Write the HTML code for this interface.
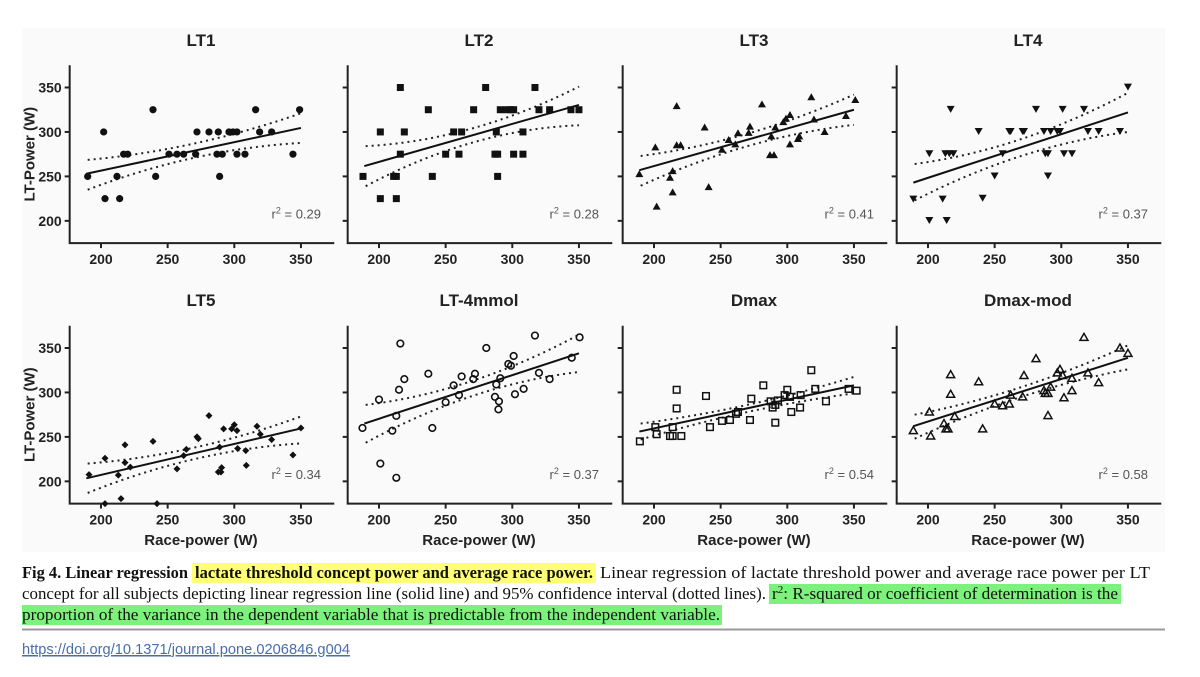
<!DOCTYPE html>
<html><head><meta charset="utf-8">
<style>
html,body{margin:0;padding:0;background:#fff;}
svg{display:block;}
</style></head>
<body>
<svg id="fig" width="1200" height="677" viewBox="0 0 1200 677" xmlns="http://www.w3.org/2000/svg">
<rect x="22" y="28" width="1143" height="524" fill="#fafafa"/>
<g id="panels"></g>
<g font-family="'Liberation Serif', serif" font-size="17" fill="#111">
<rect x="192" y="563" width="404" height="20" fill="#ffff7a"/>
<rect x="769" y="584" width="352" height="20" fill="#7cf27c"/>
<rect x="22" y="605" width="700" height="20" fill="#7cf27c"/>
<text x="22" y="578" textLength="166" lengthAdjust="spacingAndGlyphs" font-weight="bold">Fig 4.  Linear regression</text>
<text x="195" y="578" textLength="398" lengthAdjust="spacingAndGlyphs" font-weight="bold">lactate threshold concept power and average race power.</text>
<text x="600" y="578" textLength="550" lengthAdjust="spacingAndGlyphs">Linear regression of lactate threshold power and average race power per LT</text>
<text x="22" y="599" textLength="744" lengthAdjust="spacingAndGlyphs">concept for all subjects depicting linear regression line (solid line) and 95% confidence interval (dotted lines).</text>
<text x="772" y="599" textLength="346" lengthAdjust="spacingAndGlyphs">r<tspan font-size="11" dy="-6">2</tspan><tspan dy="6">: R-squared or coefficient of determination is the</tspan></text>
<text x="22" y="620" textLength="698" lengthAdjust="spacingAndGlyphs">proportion of the variance in the dependent variable that is predictable from the independent variable.</text>
<line x1="22" y1="629.5" x2="1165" y2="629.5" stroke="#9a9a9a" stroke-width="2"/>
</g>
<text x="22" y="654" font-family="'Liberation Sans', sans-serif" font-size="15" fill="#4a6da8" textLength="328" lengthAdjust="spacingAndGlyphs" text-decoration="underline">https://doi.org/10.1371/journal.pone.0206846.g004</text>
</svg>
<script>
const titles = ["LT1","LT2","LT3","LT4","LT5","LT-4mmol","Dmax","Dmax-mod"];
const r2Labels = ["0.29","0.28","0.41","0.37","0.34","0.37","0.54","0.58"];
const markers = ["circle","square","triUp","triDown","diamond","openCircle","openSquare","openTri"];
const xTicks = [200,250,300,350];
const yTicks = [200,250,300,350];
const lineX = [189,350];
const ciX = [190,270,350];

const lt1X = [190,202,203,212,214,217,220,239,241,251,257,262,271,272,281,287,288,289,291,296,299,302,302,308,316,319,328,344,349];
const lt1Y = [250,300,225,250,225,275,275,325,250,275,275,275,275,300,300,275,300,250,275,300,300,300,275,275,325,300,300,275,325];
const lt2X = [188,201,201,213,211,213,216,216,219,237,240,250,256,260,262,271,280,288,287,289,289,291,296,299,301,301,308,308,317,320,328,344,350];
const lt2Y = [250,300,225,225,250,250,350,275,300,325,250,275,300,275,300,325,350,300,275,275,250,325,325,325,325,275,300,275,350,325,325,325,325];
const lt3X = [189,201,202,212,214,214,217,217,220,238,241,251,256,261,263,271,272,281,288,287,290,291,297,299,302,302,308,309,318,320,328,344,351];
const lt3Y = [252.6,282.7,216,248.5,256,232,329,285,285,305,238,280,291,286,298.5,299,306,331,295,274,274,305,311,315,319,286,292,295,339,314,300,318,336];
const lt4X = [189,201,201,211,214,213,216,219,217,238,241,250,256,261,262,271,272,281,287,288,290,290,292,297,299,301,302,308,317,320,328,344,350];
const lt4Y = [225,276,201,225,201,276,276,276,326,301,226,251,276,301,301,301,301,326,301,276,276,251,301,301,301,326,276,276,326,301,301,301,351];
const lt5X = [191,203,203,213,215,218,218,222,239,242,257,262,264,272,273,281,288,289,290.5,290,292,298,300,302,302.5,308.6,309,317,319.5,328,344,350];
const lt5Y = [207.5,226,175,207,180.6,221,241,216,245,175,214,229,236,250,248,274,210.5,238.5,215.5,210.5,259,259,263.6,257,237,234.5,218,262,253,247,229.6,260];
const mmolX = [187.6,200,201,213,210,213,215,216,219,237,240,250,256,260,262,270.7,272,280.5,287,288,290,289.6,291,297,299,301,302,308.5,317,320,328,344.6,350.5];
const mmolY = [260,292,220,204,257,273.7,303,355,315,321,260,289,308,297,318,315,321,350,295,309,290,281,316,332,330,341,298,304,364,322,315,339,362];
const dmaxX = [189.4,201,202,212,214,214,217,217,220.5,239,242,251,257,261.5,263,272,273,282,287.5,289,291,291,293,298,300,302,303,309.6,310,318,321,329,346,352];
const dmaxY = [245,261,253,251,251,261,303,282,251,296,261,268,269,276,278,269,293,308,290,283,266,286,291,297,303,295,278,283,297,325,304,290,304,302];
const modX = [189,201,202,212,213.5,215,217,217,220,238,241,250,256,261,262,271,272,281,287,288,290,290,292,297,299,301,302,308,308,317,320,328,344,350];
const modY = [257,278,251,265,259,259,298,320,273,312,259,287,285,287,297,295,319,338,302,299,299,274,306,322,326,319,294,302,316,362,322,311,350,344];

const fitY = [[253,304.5],[261.6,330.4],[257,325],[243,322],[203.4,259.5],[265,344],[256,308],[262,339]];
const ciUpper = [[268.6,287,321],[284,304,351],[273,298,342],[264,292,344],[220,238,273],[286,313,365],[265,286,317.5],[275,306,353]];
const ciLower = [[235,271,287.7],[239,288,307.5],[239.5,284,308],[223,273,300],[187,225,242.7],[243.4,296,323],[247,278,299],[248,295,326]];

const allX = [lt1X,lt2X,lt3X,lt4X,lt5X,mmolX,dmaxX,modX];
const allY = [lt1Y,lt2Y,lt3Y,lt4Y,lt5Y,mmolY,dmaxY,modY];

const colX200 = [101,379,654,928];
const rowY350 = [87.5,348];
const KX = 1.333, KY = 0.889;
const NS = "http://www.w3.org/2000/svg";
const root = document.getElementById("panels");

function mk(tag, attrs, parent){
  const e = document.createElementNS(NS, tag);
  for (const k in attrs) e.setAttribute(k, attrs[k]);
  (parent||root).appendChild(e);
  return e;
}

for (let p = 0; p < 8; p++) {
  const c = p % 4, r = Math.floor(p / 4);
  const sx = v => colX200[c] + (v - 200) * KX;
  const sy = v => rowY350[r] + (350 - v) * KY;
  const g = mk("g", {});
  
  

  const t = mk("text", {x: sx(275), y: r ? 306 : 46, "text-anchor": "middle", "font-family": "'Liberation Sans', sans-serif", "font-weight": "bold", "font-size": "17", fill: "#222"}, g);
  t.textContent = titles[p];
  
  

  const ax = mk("path", {d: `M${sx(176.5)},${sy(375)} V${sy(175)} H${sx(375)}`, fill: "none", stroke: "#222", "stroke-width": "2"}, g);
  
  

  for (const v of yTicks) {
    const tk = mk("line", {x1: sx(176.5) - 5, x2: sx(176.5), y1: sy(v), y2: sy(v), stroke: "#222", "stroke-width": "2"}, g);
    
    
    if (c === 0) {
      const tl = mk("text", {x: sx(176.5) - 8, y: sy(v) + 5, "text-anchor": "end", "font-family": "'Liberation Sans', sans-serif", "font-weight": "bold", "font-size": "14", fill: "#222"}, g);
      tl.textContent = v;
      
      
    }
  }
  for (const v of xTicks) {
    const tk = mk("line", {x1: sx(v), x2: sx(v), y1: sy(175), y2: sy(175) + 5, stroke: "#222", "stroke-width": "2"}, g);
    
    
    const tl = mk("text", {x: sx(v), y: sy(175) + 21, "text-anchor": "middle", "font-family": "'Liberation Sans', sans-serif", "font-weight": "bold", "font-size": "14", fill: "#222"}, g);
    tl.textContent = v;
    
    
  }
  if (c === 0) {
    const cy = (sy(375) + sy(175)) / 2;
    const yt = mk("text", {x: 30, y: cy, transform: `rotate(-90 30 ${cy})`, "text-anchor": "middle", "dominant-baseline": "central", "font-family": "'Liberation Sans', sans-serif", "font-weight": "bold", "font-size": "15", fill: "#222"}, g);
    yt.textContent = "LT-Power (W)";
    
    
  }
  if (r === 1) {
    const xt = mk("text", {x: sx(275), y: 545, "text-anchor": "middle", "font-family": "'Liberation Sans', sans-serif", "font-weight": "bold", "font-size": "15", fill: "#222"}, g);
    xt.textContent = "Race-power (W)";
    
    
  }

  for (const band of [ciUpper[p], ciLower[p]]) {
    const x0 = sx(ciX[0]), x1 = sx(ciX[1]), x2 = sx(ciX[2]);
    const y0 = sy(band[0]), y1 = sy(band[1]), y2 = sy(band[2]);
    const cxp = 2 * x1 - (x0 + x2) / 2, cyp = 2 * y1 - (y0 + y2) / 2;
    const ci = mk("path", {d: `M${x0},${y0} Q${cxp},${cyp} ${x2},${y2}`, fill: "none", stroke: "#222", "stroke-width": "2", "stroke-dasharray": "2,4"}, g);
    
    
  }
  const ln = mk("line", {x1: sx(lineX[0]), y1: sy(fitY[p][0]), x2: sx(lineX[1]), y2: sy(fitY[p][1]), stroke: "#111", "stroke-width": "2"}, g);
  
  

  const xs = allX[p], ys = allY[p], m = markers[p];
  for (let i = 0; i < xs.length; i++) {
    const X = sx(xs[i]), Y = sy(ys[i]);
    let el;
    if (m === "circle") el = mk("circle", {cx: X, cy: Y, r: 3.6, fill: "#111"}, g);
    else if (m === "openCircle") el = mk("circle", {cx: X, cy: Y, r: 3.3, fill: "none", stroke: "#111", "stroke-width": "1.6"}, g);
    else if (m === "square") el = mk("rect", {x: X - 3.5, y: Y - 3.5, width: 7, height: 7, fill: "#111"}, g);
    else if (m === "openSquare") el = mk("rect", {x: X - 3.3, y: Y - 3.3, width: 6.6, height: 6.6, fill: "none", stroke: "#111", "stroke-width": "1.5"}, g);
    else if (m === "triUp") el = mk("polygon", {points: `${X},${Y-4} ${X-4},${Y+3} ${X+4},${Y+3}`, fill: "#111"}, g);
    else if (m === "triDown") el = mk("polygon", {points: `${X},${Y+4} ${X-4},${Y-3} ${X+4},${Y-3}`, fill: "#111"}, g);
    else if (m === "openTri") el = mk("polygon", {points: `${X},${Y-4} ${X-4},${Y+3} ${X+4},${Y+3}`, fill: "none", stroke: "#111", "stroke-width": "1.5"}, g);
    else el = mk("polygon", {points: `${X},${Y-3.5} ${X+3.5},${Y} ${X},${Y+3.5} ${X-3.5},${Y}`, fill: "#111"}, g);
    
    
  }

  const rt = mk("text", {x: colX200[c] + 220, y: rowY350[r] + 131, "text-anchor": "end", "font-family": "'Liberation Sans', sans-serif", "font-size": "13", fill: "#555"}, g);
  rt.innerHTML = 'r<tspan font-size="9" dy="-5">2</tspan><tspan dy="5"> = ' + r2Labels[p] + '</tspan>';
  
  
}
</script>
</body></html>
